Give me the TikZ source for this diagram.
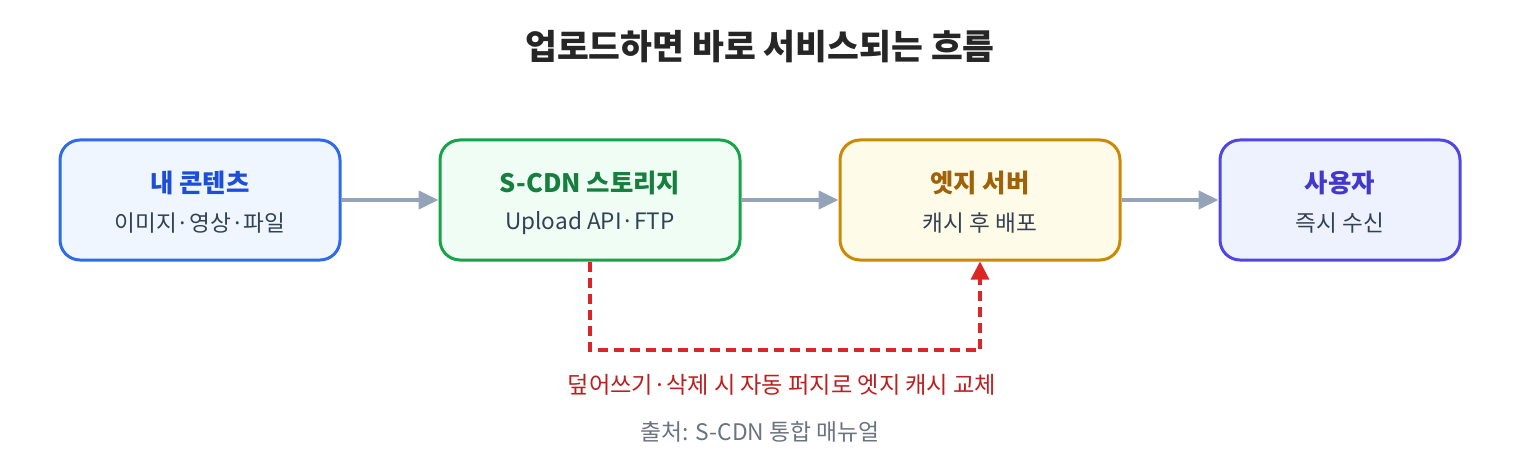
\documentclass[tikz,border=0pt]{standalone}
\usepackage{fontspec}
\setmainfont{Noto Sans CJK KR}
\usetikzlibrary{positioning,arrows.meta}
\definecolor{bluedge}{HTML}{2F6BE8}
\definecolor{bluefill}{HTML}{EFF6FF}
\definecolor{bluetext}{HTML}{1D4ED8}
\definecolor{greenedge}{HTML}{16A34A}
\definecolor{greenfill}{HTML}{F0FDF4}
\definecolor{greentext}{HTML}{15803D}
\definecolor{ambedge}{HTML}{CA8A04}
\definecolor{ambfill}{HTML}{FEFCE8}
\definecolor{ambtext}{HTML}{A16207}
\definecolor{indedge}{HTML}{4F46E5}
\definecolor{indfill}{HTML}{EEF2FF}
\definecolor{indtext}{HTML}{4338CA}
\definecolor{flowgray}{HTML}{94A3B8}
\definecolor{purgered}{HTML}{DC2626}
\definecolor{labelgray}{HTML}{334155}
\definecolor{srcgray}{HTML}{6B7280}
\tikzset{
  box/.style={draw, line width=1.5pt, rounded corners=10pt, minimum height=60pt},
  head/.style={font=\fontsize{12.7}{14}\selectfont\bfseries},
  sub/.style={font=\fontsize{11.3}{13}\selectfont, text=labelgray},
  flow/.style={draw=flowgray, line width=2pt, -{Triangle[length=10pt,width=9pt]}},
  purge/.style={draw=purgered, line width=1.6pt, dash pattern=on 5pt off 3pt, -{Triangle[length=9pt,width=9pt]}}
}
\begin{document}
\begin{tikzpicture}[x=0.5pt,y=-0.5pt]
\useasboundingbox (0,0) rectangle (1520,460);

% title
\node[font=\fontsize{17.3}{20}\selectfont\bfseries, text=black!85] (title) at (760,47) {업로드하면 바로 서비스되는 흐름};

% boxes
\node[box, draw=bluedge, fill=bluefill, minimum width=140pt] (mine) at (200,200) {};
\node[box, draw=greenedge, fill=greenfill, minimum width=150pt] (store) at (590,200) {};
\node[box, draw=ambedge, fill=ambfill, minimum width=140pt] (edge) at (980,200) {};
\node[box, draw=indedge, fill=indfill, minimum width=120pt] (user) at (1340,200) {};

% box texts
\node[head, text=bluetext] at (200,183) {내 콘텐츠};
\node[sub] at (200,223) {이미지·영상·파일};
\node[head, text=greentext] at (590,183) {S-CDN 스토리지};
\node[sub] at (590,223) {Upload API·FTP};
\node[head, text=ambtext] at (980,183) {엣지 서버};
\node[sub] at (980,223) {캐시 후 배포};
\node[head, text=indtext] at (1340,183) {사용자};
\node[sub] at (1340,223) {즉시 수신};

% flow arrows
\draw[flow] (mine) -- (store);
\draw[flow] (store) -- (edge);
\draw[flow] (edge) -- (user);

% purge path
\coordinate (down) at (590,350);
\coordinate (across) at (980,350);
\draw[purge] (store.south) -- (down) -- (across) -- (edge.south);
\node[font=\fontsize{11.6}{13}\selectfont, text=purgered!85!black] (purgelabel) at (782,385) {덮어쓰기·삭제 시 자동 퍼지로 엣지 캐시 교체};

% source
\node[font=\fontsize{11.4}{13}\selectfont, text=srcgray] (source) at (760,432) {출처: S-CDN 통합 매뉴얼};
\end{tikzpicture}
\end{document}
